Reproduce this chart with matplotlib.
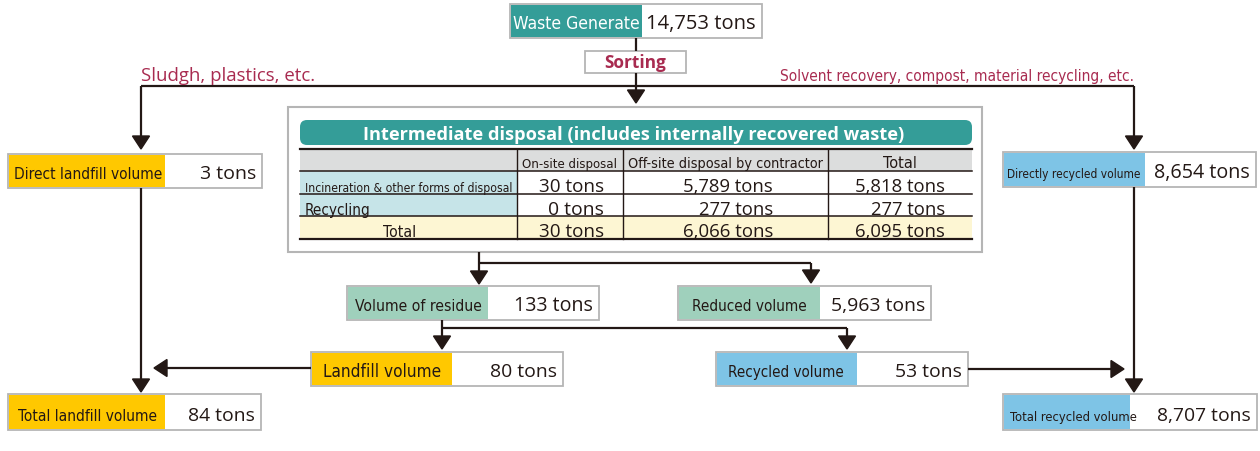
import matplotlib.pyplot as plt
from matplotlib import font_manager
from matplotlib.patches import Rectangle, FancyBboxPatch, Polygon

# ── data ──
flow_labels = ['Waste Generate', 'Direct landfill volume', 'Directly recycled volume',
               'Volume of residue', 'Reduced volume', 'Landfill volume',
               'Recycled volume', 'Total landfill volume', 'Total recycled volume']
flow_tons = [14753, 3, 8654, 133, 5963, 80, 53, 84, 8707]

table_title = 'Intermediate disposal (includes internally recovered waste)'
table_cols = ['On-site disposal', 'Off-site disposal by contractor', 'Total']
table_rows = ['Incineration & other forms of disposal', 'Recycling', 'Total']
onsite_tons = [30, 0, 30]
offsite_tons = [5789, 277, 6066]
total_tons = [5818, 277, 6095]

sort_label = 'Sorting'
left_note = 'Sludgh, plastics, etc.'
right_note = 'Solvent recovery, compost, material recycling, etc.'

# ── style ──
TEAL = '#349d98'
GREEN = '#9fd0bc'
YELLOW = '#ffc800'
BLUE = '#7ec4e6'
BORDER = '#b5b5b5'
INK = '#231815'
CRIMSON = '#a82b50'
HEAD_GRAY = '#dcdddd'
ROW_BLUE = '#c6e4e8'
CREAM = '#fdf6d3'
VALUE_FONT = ['Open Sans', 'DejaVu Sans']

# condensed face for the box labels if there is one, else Liberation Sans
cond = font_manager.findfont(font_manager.FontProperties(family='DejaVu Sans', stretch='condensed'))
if 'Condensed' in cond:
    LABEL_KW = dict(family=['DejaVu Sans'], fontstretch='condensed')
else:
    LABEL_KW = dict(family=['Liberation Sans', 'DejaVu Sans'])

fig = plt.figure(figsize=(12.6, 4.52), dpi=100)
ax = fig.add_axes([0, 0, 1, 1])
ax.set_xlim(0, 1260)
ax.set_ylim(452, 0)
ax.axis('off')
renderer = fig.canvas.get_renderer()


def put(x, y, s, width, ha='left', color=INK, weight='normal', label=False):
    """text on a baseline, font size scaled so it is `width` px wide"""
    kw = LABEL_KW if label else dict(family=VALUE_FONT)
    t = ax.text(x, y, s, ha=ha, va='baseline', fontsize=10, color=color,
                fontweight=weight, zorder=5, **kw)
    w = t.get_window_extent(renderer).width
    t.set_fontsize(10 * width / w)
    return t


def line(xs, ys):
    ax.plot(xs, ys, color=INK, lw=1.6, solid_capstyle='butt', zorder=3)


def arrow(x0, y0, x1, y1, head=13, half=8.5):
    # straight arrow, tip at (x1, y1)
    if x0 == x1:
        d = 1 if y1 > y0 else -1
        line([x0, x1], [y0, y1 - d * head])
        pts = [(x1, y1), (x1 - half, y1 - d * head), (x1 + half, y1 - d * head)]
    else:
        d = 1 if x1 > x0 else -1
        line([x0, x1 - d * head], [y0, y1])
        pts = [(x1, y1), (x1 - d * head, y1 - half), (x1 - d * head, y1 + half)]
    ax.add_patch(Polygon(pts, closed=True, color=INK, zorder=4))


def rect(x0, y0, x1, y1, fc, ec='none', lw=0, z=1):
    ax.add_patch(Rectangle((x0, y0), x1 - x0, y1 - y0, fc=fc, ec=ec, lw=lw, zorder=z))


# ── flow boxes: x0, split, x1, y0, y1, colour, label x, label w, value w ──
box_layout = [
    (510, 642, 762, 5, 39, TEAL, 513, 127, 109),
    (8, 165, 262, 155, 189, YELLOW, 14, 148, 56),
    (1003, 1145, 1256, 153, 188, BLUE, 1007, 134, 96),
    (347, 488, 599, 287, 321, GREEN, 355, 127, 79),
    (678, 820, 931, 287, 321, GREEN, 692, 115, 94),
    (311, 452, 563, 353, 387, YELLOW, 323, 118, 67),
    (716, 857, 968, 353, 387, BLUE, 728, 116, 67),
    (8, 165, 261, 395, 431, YELLOW, 18, 139, 67),
    (1003, 1130, 1257, 395, 431, BLUE, 1010, 127, 94),
]
for (x0, xs, x1, y0, y1, c, lx, lw_, vw), lab, val in zip(box_layout, flow_labels, flow_tons):
    rect(x0, y0, x1, y1, 'white', BORDER, 1.3, z=2)
    rect(x0 + 1, y0 + 1, xs, y1 - 1, c, z=2)
    tc = 'white' if c == TEAL else INK
    put(lx, y1 - 10, lab, lw_, color=tc, label=True)
    put(x1 - 6, y1 - 10, f'{val:,} tons', vw, ha='right')

# ── sorting ──
rect(585, 52, 686, 74, 'white', BORDER, 1.3, z=2)
put(604, 68, sort_label, 62, color=CRIMSON, weight='bold')
put(141, 81, left_note, 175, color=CRIMSON)
put(1134, 81, right_note, 354, ha='right', color=CRIMSON, label=True)

# ── arrows ──
line([636, 636], [39, 52])
arrow(636, 74, 636, 104)
line([141, 1134], [87, 87])
arrow(141, 87, 141, 150)
arrow(1134, 87, 1134, 150)
arrow(141, 189, 141, 393)
arrow(1134, 188, 1134, 393)
arrow(311, 369, 154, 369)
arrow(968, 370, 1124, 370)
arrow(479, 253, 479, 285)
line([479, 811], [264, 264])
arrow(811, 264, 811, 284)
arrow(442, 321, 442, 350)
line([442, 847], [329, 329])
arrow(847, 329, 847, 350)

# ── intermediate disposal panel ──
rect(288, 108, 982, 253, 'white', BORDER, 1.5, z=1)
ax.add_patch(FancyBboxPatch((300, 121), 672, 25, boxstyle='round,pad=0,rounding_size=7',
                            fc=TEAL, ec='none', zorder=2))
put(363, 140, table_title, 542, color='white', weight='bold')

col_x = [300, 517, 623, 828, 972]
row_y = [150, 172, 195, 217, 240]
rect(300, row_y[0], 972, row_y[1], HEAD_GRAY, z=2)
rect(300, row_y[1], 517, row_y[3], ROW_BLUE, z=2)
rect(300, row_y[3], 972, row_y[4], CREAM, z=2)
for i, y in enumerate(row_y):
    ax.plot([300, 972], [y, y], color=INK, lw=1.6 if i in (0, 4) else 1.1, zorder=3)
for x in col_x[1:4]:
    ax.plot([x, x], [row_y[0], row_y[4]], color=INK, lw=1.0, zorder=3)

head_w = [95, 195, 34]
for i, (s, w) in enumerate(zip(table_cols, head_w)):
    put((col_x[i + 1] + col_x[i + 2]) / 2, 168, s, w, ha='center', label=True)

row_base = [192, 215, 237]
put(305, row_base[0], table_rows[0], 206, label=True)
put(305, row_base[1], table_rows[1], 66, label=True)
put(400, row_base[2], table_rows[2], 33, ha='center', label=True)

val_right = [604, 773, 945]
for r in range(3):
    for c, col in enumerate([onsite_tons, offsite_tons, total_tons]):
        s = f'{col[r]:,} tons'
        put(val_right[c], row_base[r], s, 9.3 * len(s) - (3 if ',' in s else 0), ha='right')

fig.savefig('out.png', dpi=100, facecolor='white')
